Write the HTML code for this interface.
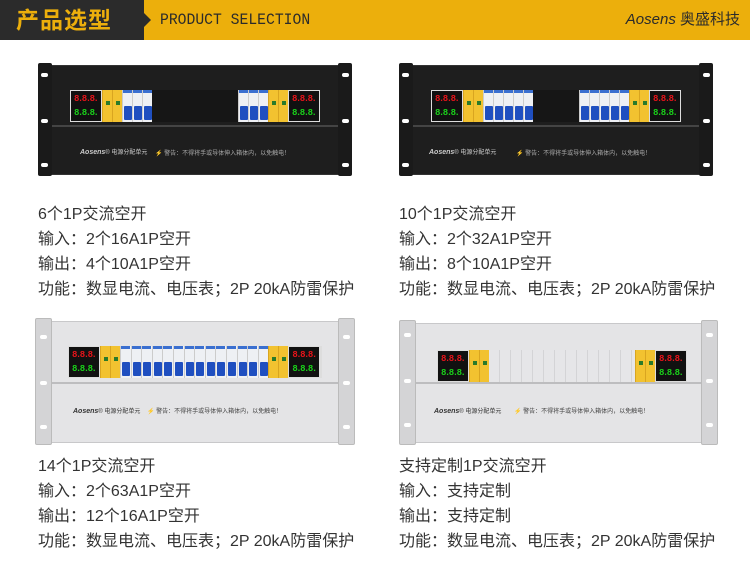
<!DOCTYPE html>
<html><head><meta charset="utf-8">
<style>
*{margin:0;padding:0;box-sizing:border-box}
body{width:750px;height:581px;background:#fff;position:relative;overflow:hidden;font-family:"Liberation Sans","Noto Sans CJK SC",sans-serif}
.hd{position:absolute;left:0;top:0;width:750px;height:40px;background:#ecaf0c}
.hd .t{position:absolute;left:0;top:0;width:144px;height:40px;background:#2b2b2b;color:#ecaf0c;font-size:23px;font-weight:bold;line-height:40px;padding-left:16px;letter-spacing:1px}
.hd .arr{position:absolute;left:144px;top:13px;width:0;height:0;border-top:7px solid transparent;border-bottom:7px solid transparent;border-left:7px solid #2b2b2b}
.hd .e{position:absolute;left:160px;top:0;line-height:40px;font-family:"Liberation Mono",monospace;font-size:16px;color:#2b2b2b;transform:scaleX(.92);transform-origin:left}
.hd .b{position:absolute;right:10px;top:0;line-height:40px;font-size:15px;color:#2b2b2b}
.p{position:absolute}
.ear{position:absolute;top:0;bottom:0;border-radius:2px}
.ear i{position:absolute;left:4px;width:7px;height:4px;border-radius:2px;background:#fff}
.body{position:absolute}
.sep{position:absolute;left:0;right:0;height:2px}
.strip{position:absolute;display:flex;height:32px}
.disp{width:32px;height:32px;background:#111;border:1px solid #ddd;font-family:"Liberation Mono",monospace;font-weight:bold;font-size:9px;line-height:14px;padding:1px 0 0 3px;letter-spacing:-1.5px;overflow:hidden;white-space:nowrap;flex:none}
.disp .r{color:#e8141a}.disp .g{color:#1ad21a}
.y{width:10px;height:32px;background:#f2c230;border-left:1px solid #d9a520;position:relative;flex:none}
.y:after{content:"";position:absolute;left:3px;top:11px;width:4px;height:4px;background:#2a7a2a}
.bk{width:10px;height:32px;background:#eef0f4;position:relative;border-left:1px solid #ccc;flex:none}
.bk:before{content:"";position:absolute;left:0;top:0;width:9px;height:3px;background:#3a6fd0}
.bk:after{content:"";position:absolute;left:1px;top:16px;width:8px;height:14px;background:#1f4fc0;border-radius:1px}
.blank{flex:1;height:32px}
.lbl{position:absolute;font-size:6px;white-space:nowrap}
.lbl b{font-style:italic;font-size:7px}
.tx{position:absolute;font-size:16px;line-height:25px;color:#333;white-space:nowrap}
</style></head><body>
<div class="hd"><div class="t">产品选型</div><div class="arr"></div><div class="e">PRODUCT SELECTION</div><div class="b"><i>Aosens</i> 奥盛科技</div></div>

<div class="p" style="left:38px;top:63px;width:314px;height:113px">
 <div class="body" style="left:12px;top:2px;width:290px;height:110px;background:#1e1e1e;border:1px solid #333"></div>
 <div class="ear" style="left:0;width:14px;background:#1a1a1a"><i style="top:10px;left:3px"></i><i style="top:56px;left:3px"></i><i style="top:100px;left:3px"></i></div>
 <div class="ear" style="left:300px;width:14px;background:#1a1a1a"><i style="top:10px"></i><i style="top:56px"></i><i style="top:100px"></i></div>
 <div class="sep" style="left:14px;right:14px;top:62px;background:#444"></div>
 <div class="strip" style="left:32px;top:27px;width:250px;background:#111">
  <div class="disp"><div class="r">8.8.8.</div><div class="g">8.8.8.</div></div>
  <div class="y"></div><div class="y"></div><div class="bk"></div><div class="bk"></div><div class="bk"></div>
  <div class="blank" style="background:#161616"></div>
  <div class="bk"></div><div class="bk"></div><div class="bk"></div><div class="y"></div><div class="y"></div>
  <div class="disp"><div class="r">8.8.8.</div><div class="g">8.8.8.</div></div>
 </div>
 <div class="lbl" style="left:42px;top:84px;color:#ccc"><b>Aosens</b>® 电源分配单元</div>
 <div class="lbl" style="left:117px;top:85px;color:#aaa">⚡ 警告：不得将手或导体伸入箱体内，以免触电！</div>
</div>

<div class="p" style="left:399px;top:63px;width:314px;height:113px">
 <div class="body" style="left:12px;top:2px;width:290px;height:110px;background:#1e1e1e;border:1px solid #333"></div>
 <div class="ear" style="left:0;width:14px;background:#1a1a1a"><i style="top:10px;left:3px"></i><i style="top:56px;left:3px"></i><i style="top:100px;left:3px"></i></div>
 <div class="ear" style="left:300px;width:14px;background:#1a1a1a"><i style="top:10px"></i><i style="top:56px"></i><i style="top:100px"></i></div>
 <div class="sep" style="left:14px;right:14px;top:62px;background:#444"></div>
 <div class="strip" style="left:32px;top:27px;width:250px;background:#111">
  <div class="disp"><div class="r">8.8.8.</div><div class="g">8.8.8.</div></div>
  <div class="y"></div><div class="y"></div><div class="bk"></div><div class="bk"></div><div class="bk"></div><div class="bk"></div><div class="bk"></div>
  <div class="blank" style="background:#161616"></div>
  <div class="bk"></div><div class="bk"></div><div class="bk"></div><div class="bk"></div><div class="bk"></div><div class="y"></div><div class="y"></div>
  <div class="disp"><div class="r">8.8.8.</div><div class="g">8.8.8.</div></div>
 </div>
 <div class="lbl" style="left:30px;top:84px;color:#ccc"><b>Aosens</b>® 电源分配单元</div>
 <div class="lbl" style="left:117px;top:85px;color:#aaa">⚡ 警告：不得将手或导体伸入箱体内，以免触电！</div>
</div>

<div class="p" style="left:35px;top:318px;width:320px;height:127px">
 <div class="body" style="left:15px;top:3px;width:290px;height:122px;background:#e4e4e6;border:1px solid #c8c8ca"></div>
 <div class="ear" style="left:0;width:17px;background:#d4d4d6;border:1px solid #bbb"><i style="top:16px"></i><i style="top:62px"></i><i style="top:106px"></i></div>
 <div class="ear" style="left:303px;width:17px;background:#d4d4d6;border:1px solid #bbb"><i style="top:16px"></i><i style="top:62px"></i><i style="top:106px"></i></div>
 <div class="sep" style="left:17px;right:17px;top:64px;background:#bdbdbf"></div>
 <div class="strip" style="left:33px;top:28px;width:254px;background:#ddd">
  <div class="disp"><div class="r">8.8.8.</div><div class="g">8.8.8.</div></div>
  <div class="y"></div><div class="y"></div>
  <div class="bk" style="width:10.6px"></div><div class="bk" style="width:10.6px"></div><div class="bk" style="width:10.6px"></div><div class="bk" style="width:10.6px"></div><div class="bk" style="width:10.6px"></div><div class="bk" style="width:10.6px"></div><div class="bk" style="width:10.6px"></div><div class="bk" style="width:10.6px"></div><div class="bk" style="width:10.6px"></div><div class="bk" style="width:10.6px"></div><div class="bk" style="width:10.6px"></div><div class="bk" style="width:10.6px"></div><div class="bk" style="width:10.6px"></div><div class="bk" style="width:10.6px"></div>
  <div class="y"></div><div class="y"></div>
  <div class="disp"><div class="r">8.8.8.</div><div class="g">8.8.8.</div></div>
 </div>
 <div class="lbl" style="left:38px;top:88px;color:#333"><b>Aosens</b>® 电源分配单元</div>
 <div class="lbl" style="left:112px;top:88px;color:#444">⚡ 警告：不得将手或导体伸入箱体内，以免触电！</div>
</div>

<div class="p" style="left:399px;top:320px;width:319px;height:125px">
 <div class="body" style="left:16px;top:3px;width:288px;height:120px;background:#e4e4e6;border:1px solid #c8c8ca"></div>
 <div class="ear" style="left:0;width:17px;background:#d4d4d6;border:1px solid #bbb"><i style="top:12px"></i><i style="top:58px"></i><i style="top:102px"></i></div>
 <div class="ear" style="left:302px;width:17px;background:#d4d4d6;border:1px solid #bbb"><i style="top:12px"></i><i style="top:58px"></i><i style="top:102px"></i></div>
 <div class="sep" style="left:17px;right:17px;top:62px;background:#bdbdbf"></div>
 <div class="strip" style="left:38px;top:30px;width:250px;background:#e0e0e2">
  <div class="disp"><div class="r">8.8.8.</div><div class="g">8.8.8.</div></div>
  <div class="y"></div><div class="y"></div>
  <div class="blank" style="background:repeating-linear-gradient(90deg,#e6e6e8 0 10px,#d4d4d6 10px 11px)"></div>
  <div class="y"></div><div class="y"></div>
  <div class="disp"><div class="r">8.8.8.</div><div class="g">8.8.8.</div></div>
 </div>
 <div class="lbl" style="left:35px;top:86px;color:#333"><b>Aosens</b>® 电源分配单元</div>
 <div class="lbl" style="left:115px;top:86px;color:#444">⚡ 警告：不得将手或导体伸入箱体内，以免触电！</div>
</div>

<div class="tx" style="left:38px;top:202px">6个1P交流空开<br>输入：2个16A1P空开<br>输出：4个10A1P空开<br>功能：数显电流、电压表；2P 20kA防雷保护</div>
<div class="tx" style="left:399px;top:202px">10个1P交流空开<br>输入：2个32A1P空开<br>输出：8个10A1P空开<br>功能：数显电流、电压表；2P 20kA防雷保护</div>
<div class="tx" style="left:38px;top:454px">14个1P交流空开<br>输入：2个63A1P空开<br>输出：12个16A1P空开<br>功能：数显电流、电压表；2P 20kA防雷保护</div>
<div class="tx" style="left:399px;top:454px">支持定制1P交流空开<br>输入：支持定制<br>输出：支持定制<br>功能：数显电流、电压表；2P 20kA防雷保护</div>
</body></html>
